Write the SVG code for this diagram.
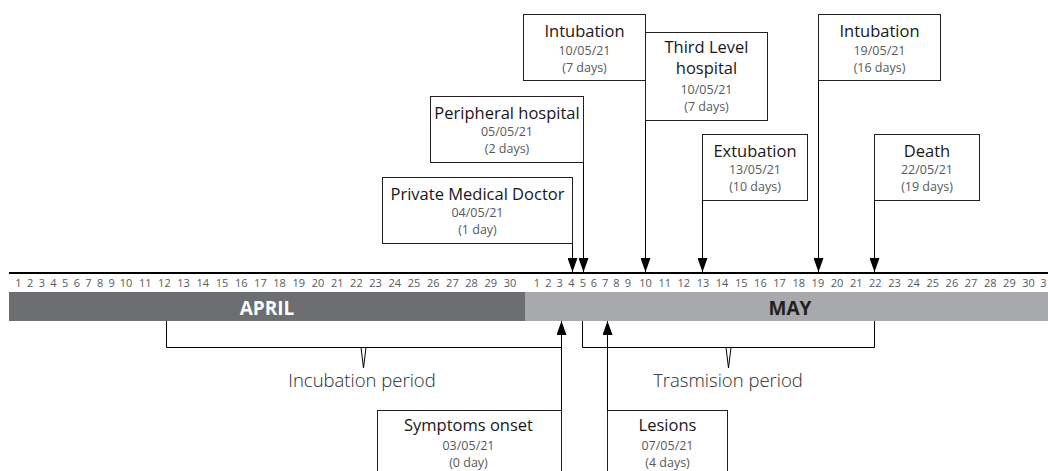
<svg xmlns="http://www.w3.org/2000/svg" width="1048" height="471" viewBox="0 0 1048 471">
<style>
text{font-family:"Open Sans","Noto Sans","Liberation Sans",sans-serif}
.t{font-size:16.5px;fill:#1a1718;text-anchor:middle}
.d{font-size:12.5px;fill:#58595b;text-anchor:middle}
.n{font-size:11px;fill:#58595b;text-anchor:middle}
.p{font-size:18.5px;font-weight:300;fill:#2b2b2d;text-anchor:middle}
.box{fill:#fff;stroke:#231f20;stroke-width:1}
.ln{fill:none;stroke:#000;stroke-width:1}
</style>
<defs>
<marker id="ah" viewBox="0 0 14 10" refX="14" refY="5" markerWidth="14" markerHeight="10" markerUnits="userSpaceOnUse" orient="auto"><path d="M0,0 L14,5 L0,10 z" fill="#000"/></marker>
</defs>
<rect width="1048" height="471" fill="#fff"/>
<g id="timeline">
<line x1="9" y1="273" x2="1048" y2="273" stroke="#000" stroke-width="2"/>
<rect x="9" y="292" width="516" height="29" fill="#6d6e71"/>
<rect x="525" y="292" width="523" height="29" fill="#a7a9ac"/>
<text x="267" y="315" style="font-size:19px;font-weight:700;fill:#fff;text-anchor:middle">APRIL</text>
<text x="790" y="315" style="font-size:19px;font-weight:700;fill:#231f20;text-anchor:middle">MAY</text>
<g class="days">
<text class="n" x="18.5" y="287">1</text><text class="n" x="30.2" y="287">2</text><text class="n" x="41.8" y="287">3</text><text class="n" x="53.5" y="287">4</text><text class="n" x="65.1" y="287">5</text><text class="n" x="76.8" y="287">6</text><text class="n" x="88.4" y="287">7</text><text class="n" x="100.1" y="287">8</text><text class="n" x="111.7" y="287">9</text>
<text class="n" x="126" y="287">10</text><text class="n" x="145.2" y="287">11</text><text class="n" x="164.4" y="287">12</text><text class="n" x="183.6" y="287">13</text><text class="n" x="202.8" y="287">14</text><text class="n" x="222" y="287">15</text><text class="n" x="241.2" y="287">16</text><text class="n" x="260.4" y="287">17</text><text class="n" x="279.6" y="287">18</text><text class="n" x="298.8" y="287">19</text><text class="n" x="318" y="287">20</text><text class="n" x="337.2" y="287">21</text><text class="n" x="356.4" y="287">22</text><text class="n" x="375.6" y="287">23</text><text class="n" x="394.8" y="287">24</text><text class="n" x="414" y="287">25</text><text class="n" x="433.2" y="287">26</text><text class="n" x="452.4" y="287">27</text><text class="n" x="471.6" y="287">28</text><text class="n" x="490.8" y="287">29</text><text class="n" x="510" y="287">30</text>
<text class="n" x="537" y="287">1</text><text class="n" x="548.4" y="287">2</text><text class="n" x="559.7" y="287">3</text><text class="n" x="571.5" y="287">4</text><text class="n" x="582.8" y="287">5</text><text class="n" x="593.8" y="287">6</text><text class="n" x="605.1" y="287">7</text><text class="n" x="616.5" y="287">8</text><text class="n" x="627.8" y="287">9</text>
<text class="n" x="645.5" y="287">10</text><text class="n" x="664.7" y="287">11</text><text class="n" x="683.8" y="287">12</text><text class="n" x="703" y="287">13</text><text class="n" x="722.1" y="287">14</text><text class="n" x="741.3" y="287">15</text><text class="n" x="760.4" y="287">16</text><text class="n" x="779.6" y="287">17</text><text class="n" x="798.7" y="287">18</text><text class="n" x="817.9" y="287">19</text><text class="n" x="837" y="287">20</text><text class="n" x="856.2" y="287">21</text><text class="n" x="875.3" y="287">22</text><text class="n" x="894.5" y="287">23</text><text class="n" x="913.6" y="287">24</text><text class="n" x="932.8" y="287">25</text><text class="n" x="951.9" y="287">26</text><text class="n" x="971.1" y="287">27</text><text class="n" x="990.2" y="287">28</text><text class="n" x="1009.4" y="287">29</text><text class="n" x="1028.5" y="287">30</text><text class="n" x="1046.5" y="287">31</text>
</g>
</g>
<g id="connectors">
<line class="ln" x1="572.5" y1="243" x2="572.5" y2="272" marker-end="url(#ah)"/>
<line class="ln" x1="583.5" y1="162" x2="583.5" y2="272" marker-end="url(#ah)"/>
<line class="ln" x1="645.5" y1="120" x2="645.5" y2="272" marker-end="url(#ah)"/>
<line class="ln" x1="702.5" y1="200" x2="702.5" y2="272" marker-end="url(#ah)"/>
<line class="ln" x1="818.5" y1="81" x2="818.5" y2="272" marker-end="url(#ah)"/>
<line class="ln" x1="874.5" y1="200" x2="874.5" y2="272" marker-end="url(#ah)"/>
<line class="ln" x1="561.5" y1="471" x2="561.5" y2="321" marker-end="url(#ah)"/>
<line class="ln" x1="607.5" y1="471" x2="607.5" y2="321" marker-end="url(#ah)"/>
</g>
<g id="incubation">
<path class="ln" d="M166.5,321 V347.5 H561.5 M361,347.5 L363.5,368 L366,347.5"/>
<text class="p" x="362" y="387">Incubation period</text>
</g>
<g id="transmission">
<path class="ln" d="M582.5,321 V347.5 H874.5 V321 M726,347.5 L728.5,368 L731,347.5"/>
<text class="p" x="728" y="387">Trasmision period</text>
</g>
<g id="private-doctor">
<rect class="box" x="382.5" y="177.5" width="190" height="66"/>
<text class="t" x="477.5" y="199.5">Private Medical Doctor</text>
<text class="d" x="477.5" y="217">04/05/21</text>
<text class="d" x="477.5" y="234">(1 day)</text>
</g>
<g id="peripheral-hospital">
<rect class="box" x="430.5" y="96.5" width="153" height="66"/>
<text class="t" x="507" y="118.5">Peripheral hospital</text>
<text class="d" x="507" y="136">05/05/21</text>
<text class="d" x="507" y="153">(2 days)</text>
</g>
<g id="intubation-1">
<rect class="box" x="523.5" y="14.5" width="122" height="66"/>
<text class="t" x="584.5" y="36.5">Intubation</text>
<text class="d" x="584.5" y="55">10/05/21</text>
<text class="d" x="584.5" y="72">(7 days)</text>
</g>
<g id="third-level-hospital">
<rect class="box" x="645.5" y="32.5" width="122" height="88"/>
<text class="t" x="706.5" y="53">Third Level</text>
<text class="t" x="706.5" y="74">hospital</text>
<text class="d" x="706.5" y="94">10/05/21</text>
<text class="d" x="706.5" y="111">(7 days)</text>
</g>
<g id="extubation">
<rect class="box" x="702.5" y="134.5" width="105" height="66"/>
<text class="t" x="755" y="156.5">Extubation</text>
<text class="d" x="755" y="174">13/05/21</text>
<text class="d" x="755" y="191">(10 days)</text>
</g>
<g id="intubation-2">
<rect class="box" x="818.5" y="14.5" width="122" height="66"/>
<text class="t" x="879.5" y="36.5">Intubation</text>
<text class="d" x="879.5" y="55">19/05/21</text>
<text class="d" x="879.5" y="72">(16 days)</text>
</g>
<g id="death">
<rect class="box" x="874.5" y="134.5" width="105" height="66"/>
<text class="t" x="927" y="156.5">Death</text>
<text class="d" x="927" y="174">22/05/21</text>
<text class="d" x="927" y="191">(19 days)</text>
</g>
<g id="symptoms-onset">
<rect class="box" x="377.5" y="410.5" width="184" height="80"/>
<text class="t" x="468.5" y="431">Symptoms onset</text>
<text class="d" x="468.5" y="450">03/05/21</text>
<text class="d" x="468.5" y="467">(0 day)</text>
</g>
<g id="lesions">
<rect class="box" x="607.5" y="410.5" width="120" height="80"/>
<text class="t" x="667.5" y="431">Lesions</text>
<text class="d" x="667.5" y="450">07/05/21</text>
<text class="d" x="667.5" y="467">(4 days)</text>
</g>
</svg>
